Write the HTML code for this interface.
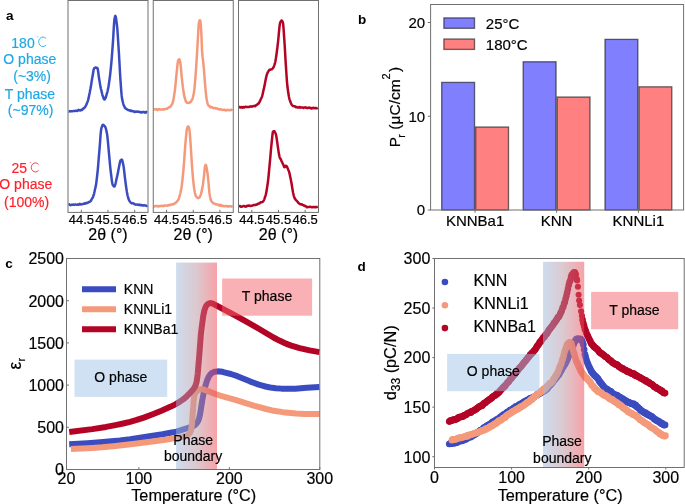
<!DOCTYPE html>
<html><head><meta charset="utf-8"><title>Figure</title>
<style>html,body{margin:0;padding:0;background:#fff;}svg{display:block;will-change:transform;}</style></head>
<body><svg width="685" height="504" viewBox="0 0 685 504" font-family="'Liberation Sans', sans-serif">
<rect width="685" height="504" fill="#fff"/>
<path d="M68.5 111.46 L68.9 111.52 L69.3 111.29 L69.7 111.22 L70.1 111.32 L70.5 111.38 L70.9 111.29 L71.3 111.31 L71.7 111.38 L72.1 111.29 L72.5 111.28 L72.9 111.15 L73.3 111.04 L73.7 110.91 L74.1 111.04 L74.5 111.08 L74.9 111.05 L75.3 110.83 L75.7 110.74 L76.1 110.76 L76.5 110.78 L76.9 110.92 L77.3 111.05 L77.7 110.67 L78.1 110.04 L78.5 109.85 L78.9 110.13 L79.3 110.3 L79.7 110.28 L80.1 110.51 L80.5 110.31 L80.9 109.98 L81.3 109.86 L81.7 110.02 L82.1 109.92 L82.5 109.4 L82.9 108.84 L83.3 108.49 L83.7 108.37 L84.1 108.13 L84.5 107.63 L84.9 107.19 L85.3 106.66 L85.7 105.98 L86.1 105.2 L86.5 104.41 L86.9 103.35 L87.3 102.33 L87.7 101.36 L88.1 100.14 L88.5 98.37 L88.9 96.54 L89.3 94.59 L89.7 92.74 L90.1 90.51 L90.5 88.55 L90.9 86.32 L91.3 83.85 L91.7 81.15 L92.1 78.72 L92.5 76.58 L92.9 74.32 L93.3 71.74 L93.7 69.59 L94.1 68.38 L94.5 68.11 L94.9 67.93 L95.3 67.61 L95.7 67.45 L96.1 67.62 L96.5 67.92 L96.9 67.88 L97.3 68 L97.7 68.67 L98.1 71.05 L98.5 74.18 L98.9 77.29 L99.3 79.77 L99.7 82.12 L100.1 84.64 L100.5 86.88 L100.9 88.71 L101.3 90.2 L101.7 91.86 L102.1 93.61 L102.5 95.07 L102.9 96.24 L103.3 97.43 L103.7 98.56 L104.1 99.31 L104.5 99.54 L104.9 99.23 L105.3 98.48 L105.7 97.68 L106.1 96.32 L106.5 94.89 L106.9 93.44 L107.3 92.11 L107.7 90.49 L108.1 88.5 L108.5 86.45 L108.9 83.88 L109.3 81.18 L109.7 78.21 L110.1 75.08 L110.5 71.47 L110.9 67.41 L111.3 63.29 L111.7 58.76 L112.1 53.7 L112.5 48.19 L112.9 42.81 L113.3 36.33 L113.7 29.16 L114.1 22.9 L114.5 18.92 L114.9 17.06 L115.3 15.91 L115.7 16.49 L116.1 18.72 L116.5 21.77 L116.9 24.82 L117.3 28.46 L117.7 34.11 L118.1 40.38 L118.5 46.49 L118.9 52.74 L119.3 59.75 L119.7 67.25 L120.1 74.32 L120.5 80.55 L120.9 86.25 L121.3 91.58 L121.7 95.91 L122.1 98.8 L122.5 100.64 L122.9 102.28 L123.3 103.83 L123.7 104.99 L124.1 105.92 L124.5 106.85 L124.9 107.61 L125.3 108.11 L125.7 108.38 L126.1 108.71 L126.5 108.98 L126.9 109.27 L127.3 109.65 L127.7 109.76 L128.1 109.97 L128.5 110.12 L128.9 110.24 L129.3 110.14 L129.7 110.29 L130.1 110.75 L130.5 110.89 L130.9 110.93 L131.3 110.59 L131.7 110.71 L132.1 110.96 L132.5 111.3 L132.9 111.24 L133.3 111.19 L133.7 111.4 L134.1 111.63 L134.5 111.9 L134.9 111.94 L135.3 111.75 L135.7 111.49 L136.1 111.51 L136.5 111.64 L136.9 111.7 L137.3 111.76 L137.7 111.59 L138.1 111.66 L138.5 111.7 L138.9 111.75 L139.3 111.73 L139.7 112.08 L140.1 112.36 L140.5 112.3 L140.9 112.04 L141.3 112.33 L141.7 112.61 L142.1 112.53 L142.5 112.02 L142.9 111.96 L143.3 111.98 L143.7 112.06 L144.1 112.09 L144.5 112.44 L144.9 112.63 L145.3 112.36 L145.7 112.08 L146.1 111.89 L146.5 112.33 L146.9 112.48 L147.3 112.66" fill="none" stroke="#3b4cc0" stroke-width="2.5" stroke-linejoin="round"/>
<path d="M68.5 204.77 L68.9 204.68 L69.3 204.35 L69.7 204.56 L70.1 204.93 L70.5 205.16 L70.9 204.96 L71.3 204.89 L71.7 204.83 L72.1 204.81 L72.5 204.79 L72.9 204.75 L73.3 204.52 L73.7 204.58 L74.1 204.65 L74.5 204.78 L74.9 204.65 L75.3 204.62 L75.7 204.45 L76.1 204.57 L76.5 204.63 L76.9 204.74 L77.3 204.67 L77.7 204.5 L78.1 204.48 L78.5 204.73 L78.9 204.68 L79.3 204.17 L79.7 203.68 L80.1 203.95 L80.5 204.24 L80.9 204.48 L81.3 204.45 L81.7 204.38 L82.1 204.2 L82.5 204.02 L82.9 204.02 L83.3 203.81 L83.7 203.62 L84.1 203.5 L84.5 203.81 L84.9 203.75 L85.3 203.38 L85.7 202.97 L86.1 203.1 L86.5 203.15 L86.9 203.21 L87.3 202.77 L87.7 202.65 L88.1 202.57 L88.5 202.44 L88.9 202 L89.3 201.84 L89.7 201.77 L90.1 201.48 L90.5 201.26 L90.9 200.88 L91.3 200.13 L91.7 199.15 L92.1 198.57 L92.5 197.99 L92.9 197.23 L93.3 196.14 L93.7 195.05 L94.1 193.59 L94.5 191.8 L94.9 189.71 L95.3 188.15 L95.7 186.39 L96.1 184.29 L96.5 181.28 L96.9 177.88 L97.3 174.25 L97.7 170.63 L98.1 166.23 L98.5 161.13 L98.9 156.27 L99.3 151.58 L99.7 146.93 L100.1 141.38 L100.5 135.94 L100.9 131.49 L101.3 128.65 L101.7 127.28 L102.1 126.06 L102.5 125.18 L102.9 124.77 L103.3 124.87 L103.7 125.09 L104.1 125.53 L104.5 125.92 L104.9 126.56 L105.3 127.02 L105.7 128.09 L106.1 129.51 L106.5 131.3 L106.9 133.21 L107.3 135.66 L107.7 139.27 L108.1 143.49 L108.5 148.04 L108.9 152.51 L109.3 156.93 L109.7 161.29 L110.1 165.71 L110.5 169.66 L110.9 173 L111.3 176.15 L111.7 179.35 L112.1 182.31 L112.5 184.12 L112.9 185.21 L113.3 185.61 L113.7 186.27 L114.1 186.57 L114.5 186.45 L114.9 185.64 L115.3 184.51 L115.7 182.95 L116.1 180.87 L116.5 179.08 L116.9 177.4 L117.3 175.71 L117.7 173.86 L118.1 171.77 L118.5 169.57 L118.9 167.56 L119.3 165.54 L119.7 163.45 L120.1 161.65 L120.5 160.53 L120.9 160.18 L121.3 159.83 L121.7 159.6 L122.1 159.9 L122.5 161.42 L122.9 163.07 L123.3 164.89 L123.7 167.11 L124.1 170.28 L124.5 173.89 L124.9 177.51 L125.3 180.71 L125.7 183.59 L126.1 186.64 L126.5 189.35 L126.9 192.05 L127.3 193.98 L127.7 195.99 L128.1 197.34 L128.5 198.8 L128.9 199.79 L129.3 200.64 L129.7 201.16 L130.1 201.73 L130.5 202.22 L130.9 202.68 L131.3 203.11 L131.7 203.3 L132.1 203.2 L132.5 203.12 L132.9 203.29 L133.3 203.36 L133.7 203.61 L134.1 203.85 L134.5 204.15 L134.9 204.28 L135.3 204.55 L135.7 204.68 L136.1 204.5 L136.5 204.48 L136.9 204.62 L137.3 204.69 L137.7 204.79 L138.1 204.94 L138.5 204.83 L138.9 204.65 L139.3 204.56 L139.7 204.94 L140.1 205.17 L140.5 205.22 L140.9 204.93 L141.3 204.88 L141.7 205.07 L142.1 205.4 L142.5 205.59 L142.9 205.58 L143.3 205.45 L143.7 205.16 L144.1 205.16 L144.5 205.31 L144.9 205.59 L145.3 205.44 L145.7 205.39 L146.1 205.73 L146.5 205.91 L146.9 205.63 L147.3 205.34" fill="none" stroke="#3b4cc0" stroke-width="2.5" stroke-linejoin="round"/>
<path d="M153.75 109.62 L154.15 109.48 L154.55 109.27 L154.95 109.49 L155.35 109.4 L155.75 109.22 L156.15 109.16 L156.55 109.14 L156.95 109.77 L157.35 109.99 L157.75 109.91 L158.15 109.42 L158.55 109.29 L158.95 109.17 L159.35 109.12 L159.75 109.27 L160.15 109.39 L160.55 109.51 L160.95 109.46 L161.35 109.42 L161.75 109.48 L162.15 109.61 L162.55 109.47 L162.95 109.18 L163.35 109.16 L163.75 109.46 L164.15 109.46 L164.55 109.22 L164.95 109.06 L165.35 108.97 L165.75 108.82 L166.15 108.74 L166.55 108.87 L166.95 108.78 L167.35 108.6 L167.75 108.04 L168.15 107.83 L168.55 107.6 L168.95 107.45 L169.35 107.09 L169.75 107.13 L170.15 107.03 L170.55 106.47 L170.95 105.85 L171.35 105.3 L171.75 104.82 L172.15 104.06 L172.55 103.03 L172.95 101.81 L173.35 100.15 L173.75 97.84 L174.15 95.22 L174.55 92.58 L174.95 89.72 L175.35 86.17 L175.75 82.09 L176.15 77.58 L176.55 73.59 L176.95 69.97 L177.35 66.03 L177.75 62.45 L178.15 60.57 L178.55 60.04 L178.95 59.35 L179.35 59.22 L179.75 60.14 L180.15 62.05 L180.55 64.39 L180.95 68.22 L181.35 72.81 L181.75 77.06 L182.15 80.85 L182.55 84.28 L182.95 87.63 L183.35 90.35 L183.75 93.08 L184.15 95.18 L184.55 97.13 L184.95 98.4 L185.35 99.91 L185.75 101.09 L186.15 101.91 L186.55 102.34 L186.95 102.73 L187.35 102.86 L187.75 102.81 L188.15 102.77 L188.55 103.02 L188.95 102.95 L189.35 102.7 L189.75 102.32 L190.15 102.28 L190.55 102.15 L190.95 101.71 L191.35 100.93 L191.75 100.12 L192.15 99.53 L192.55 98.69 L192.95 97.28 L193.35 95.44 L193.75 93.55 L194.15 91.09 L194.55 87.65 L194.95 83.17 L195.35 78.24 L195.75 73.05 L196.15 67.61 L196.55 61.1 L196.95 54.4 L197.35 47.63 L197.75 41.28 L198.15 33.71 L198.55 26.65 L198.95 22.33 L199.35 21.25 L199.75 20.2 L200.15 20.33 L200.55 22.68 L200.95 26.37 L201.35 33.09 L201.75 43.92 L202.15 52.08 L202.55 56.42 L202.95 59.91 L203.35 63.15 L203.75 67.33 L204.15 72.22 L204.55 77.76 L204.95 82.75 L205.35 87.41 L205.75 91.68 L206.15 95.6 L206.55 98.51 L206.95 100.77 L207.35 102.62 L207.75 104.04 L208.15 104.83 L208.55 105.53 L208.95 105.89 L209.35 106.08 L209.75 106.33 L210.15 107.02 L210.55 107.4 L210.95 107.34 L211.35 107.03 L211.75 107.02 L212.15 107.28 L212.55 107.73 L212.95 108.02 L213.35 108.06 L213.75 108.08 L214.15 108.18 L214.55 108.04 L214.95 107.99 L215.35 108.13 L215.75 108.34 L216.15 108.39 L216.55 108.37 L216.95 108.5 L217.35 108.76 L217.75 108.94 L218.15 108.98 L218.55 109.06 L218.95 109.3 L219.35 109.59 L219.75 109.33 L220.15 109.25 L220.55 109.16 L220.95 109.43 L221.35 109.5 L221.75 109.77 L222.15 109.93 L222.55 109.88 L222.95 109.95 L223.35 109.88 L223.75 109.81 L224.15 109.75 L224.55 109.79 L224.95 110.06 L225.35 110.24 L225.75 110.57 L226.15 110.37 L226.55 110.14 L226.95 109.9 L227.35 110.05 L227.75 110.08 L228.15 110.07 L228.55 110.05 L228.95 110.33 L229.35 110.29 L229.75 110.35 L230.15 110.15 L230.55 110.06 L230.95 109.84 L231.35 109.79 L231.75 109.92 L232.15 110.2 L232.55 110.39" fill="none" stroke="#f49a7b" stroke-width="2.5" stroke-linejoin="round"/>
<path d="M153.75 206.07 L154.15 206.3 L154.55 206.54 L154.95 206.31 L155.35 206 L155.75 205.9 L156.15 206.09 L156.55 205.92 L156.95 205.94 L157.35 206.02 L157.75 206.41 L158.15 206.47 L158.55 206.44 L158.95 206.05 L159.35 206.2 L159.75 206.03 L160.15 206.17 L160.55 205.96 L160.95 206.01 L161.35 205.75 L161.75 205.7 L162.15 205.85 L162.55 205.94 L162.95 206.17 L163.35 205.93 L163.75 205.77 L164.15 205.51 L164.55 205.76 L164.95 205.52 L165.35 205.43 L165.75 205.38 L166.15 205.43 L166.55 205.47 L166.95 205.51 L167.35 205.73 L167.75 205.7 L168.15 205.49 L168.55 205.12 L168.95 204.91 L169.35 205.08 L169.75 205.25 L170.15 205.12 L170.55 204.8 L170.95 204.51 L171.35 204.43 L171.75 204.38 L172.15 204.37 L172.55 204.59 L172.95 204.51 L173.35 204.24 L173.75 203.89 L174.15 203.69 L174.55 203.43 L174.95 203.18 L175.35 203.14 L175.75 202.73 L176.15 202.43 L176.55 201.96 L176.95 201.58 L177.35 200.98 L177.75 200.53 L178.15 199.98 L178.55 199.19 L178.95 198.18 L179.35 196.96 L179.75 195.5 L180.15 194.07 L180.55 192.29 L180.95 190.27 L181.35 188.28 L181.75 185.9 L182.15 182.58 L182.55 178.79 L182.95 174.84 L183.35 170.79 L183.75 166.16 L184.15 161.1 L184.55 155.32 L184.95 149.63 L185.35 144.39 L185.75 139.91 L186.15 135.3 L186.55 131.43 L186.95 128.74 L187.35 127.59 L187.75 126.59 L188.15 126.41 L188.55 126.67 L188.95 127.74 L189.35 129.34 L189.75 132.31 L190.15 137.44 L190.55 143.33 L190.95 149.24 L191.35 155.55 L191.75 162.07 L192.15 167.97 L192.55 172.98 L192.95 177.59 L193.35 181.7 L193.75 185.34 L194.15 188.4 L194.55 190.86 L194.95 192.97 L195.35 194.63 L195.75 195.73 L196.15 196.38 L196.55 196.66 L196.95 197.27 L197.35 197.68 L197.75 198.08 L198.15 198.11 L198.55 198.08 L198.95 197.75 L199.35 197.4 L199.75 196.91 L200.15 196.1 L200.55 195.21 L200.95 194.03 L201.35 192.73 L201.75 190.88 L202.15 188.86 L202.55 186.68 L202.95 184.44 L203.35 181.39 L203.75 177.83 L204.15 174.28 L204.55 170.17 L204.95 166.62 L205.35 165.27 L205.75 164.77 L206.15 165.49 L206.55 167.38 L206.95 169.65 L207.35 172.19 L207.75 175.47 L208.15 178.95 L208.55 183 L208.95 187.99 L209.35 192.41 L209.75 195.17 L210.15 197.29 L210.55 199.17 L210.95 200.35 L211.35 201.18 L211.75 201.61 L212.15 201.96 L212.55 202.34 L212.95 202.85 L213.35 203.29 L213.75 203.44 L214.15 203.61 L214.55 203.65 L214.95 203.82 L215.35 203.94 L215.75 204.2 L216.15 204.33 L216.55 204.44 L216.95 204.51 L217.35 204.53 L217.75 204.57 L218.15 204.89 L218.55 205.1 L218.95 205.42 L219.35 205.49 L219.75 205.14 L220.15 204.79 L220.55 205.15 L220.95 205.68 L221.35 205.67 L221.75 205.38 L222.15 205.58 L222.55 205.91 L222.95 206.14 L223.35 206.06 L223.75 206.16 L224.15 206.27 L224.55 206.08 L224.95 205.96 L225.35 206.01 L225.75 206.17 L226.15 206.2 L226.55 206.26 L226.95 205.91 L227.35 205.93 L227.75 206.28 L228.15 206.64 L228.55 206.39 L228.95 206.3 L229.35 206.21 L229.75 206.26 L230.15 206.29 L230.55 206.4 L230.95 206.26 L231.35 206.19 L231.75 206.4 L232.15 206.76 L232.55 206.86" fill="none" stroke="#f49a7b" stroke-width="2.5" stroke-linejoin="round"/>
<path d="M239 107 L239.4 106.94 L239.8 107.14 L240.2 107.48 L240.6 107.55 L241 107.38 L241.4 107.1 L241.8 107.17 L242.2 107.5 L242.6 107.66 L243 107.35 L243.4 106.95 L243.8 107.12 L244.2 107.39 L244.6 107.23 L245 106.92 L245.4 106.81 L245.8 106.89 L246.2 106.84 L246.6 106.89 L247 107 L247.4 107.09 L247.8 107.05 L248.2 106.99 L248.6 107.11 L249 106.97 L249.4 106.75 L249.8 106.54 L250.2 106.66 L250.6 106.53 L251 106.57 L251.4 106.6 L251.8 106.67 L252.2 106.48 L252.6 106.34 L253 106.2 L253.4 106.06 L253.8 106.05 L254.2 106.03 L254.6 106.18 L255 106.2 L255.4 105.9 L255.8 105.47 L256.2 105.1 L256.6 105.05 L257 104.78 L257.4 104.36 L257.8 103.9 L258.2 103.57 L258.6 103.53 L259 102.92 L259.4 102.3 L259.8 101.36 L260.2 100.55 L260.6 99.46 L261 98.79 L261.4 97.97 L261.8 97.23 L262.2 95.9 L262.6 94.39 L263 92.6 L263.4 90.76 L263.8 88.84 L264.2 87.18 L264.6 85.36 L265 83.21 L265.4 80.89 L265.8 78.96 L266.2 77.14 L266.6 75.61 L267 74.22 L267.4 73.17 L267.8 72.27 L268.2 71.66 L268.6 70.98 L269 70.37 L269.4 69.72 L269.8 69.76 L270.2 69.81 L270.6 69.69 L271 69.32 L271.4 69.32 L271.8 69.24 L272.2 68.92 L272.6 68.52 L273 68.01 L273.4 67.36 L273.8 66.52 L274.2 65.71 L274.6 64.45 L275 63.02 L275.4 61.2 L275.8 58.91 L276.2 56.22 L276.6 53.47 L277 50.48 L277.4 47.31 L277.8 43.81 L278.2 40.32 L278.6 36.15 L279 31.7 L279.4 27.58 L279.8 24.29 L280.2 22.47 L280.6 21.84 L281 21.33 L281.4 20.63 L281.8 20.43 L282.2 20.96 L282.6 21.83 L283 22.91 L283.4 26.49 L283.8 32.08 L284.2 38.14 L284.6 43.99 L285 50.68 L285.4 57.81 L285.8 64.34 L286.2 70.4 L286.6 76.56 L287 81.99 L287.4 86.28 L287.8 89.38 L288.2 92.33 L288.6 94.73 L289 96.94 L289.4 98.87 L289.8 100.18 L290.2 101.24 L290.6 102.29 L291 103.29 L291.4 104.14 L291.8 104.75 L292.2 105.25 L292.6 105.71 L293 106.01 L293.4 106.12 L293.8 106.15 L294.2 106.16 L294.6 106.2 L295 106.39 L295.4 106.78 L295.8 107.14 L296.2 107.2 L296.6 106.98 L297 107.07 L297.4 107.44 L297.8 107.53 L298.2 107.44 L298.6 107.47 L299 107.37 L299.4 107.1 L299.8 107.12 L300.2 107.57 L300.6 107.64 L301 107.59 L301.4 107.4 L301.8 107.47 L302.2 107.4 L302.6 107.46 L303 107.71 L303.4 107.96 L303.8 107.82 L304.2 107.49 L304.6 107.43 L305 107.53 L305.4 107.58 L305.8 107.37 L306.2 107.67 L306.6 108.04 L307 108.09 L307.4 107.9 L307.8 108.04 L308.2 107.89 L308.6 107.57 L309 107.44 L309.4 107.84 L309.8 107.94 L310.2 107.94 L310.6 107.86 L311 108.12 L311.4 108.51 L311.8 108.47 L312.2 108.02 L312.6 108.07 L313 108.18 L313.4 108.07 L313.8 107.76 L314.2 107.97 L314.6 108.2 L315 108.27 L315.4 108.08 L315.8 107.96 L316.2 108 L316.6 108.34 L317 108.34 L317.4 108.06 L317.8 107.77" fill="none" stroke="#b40426" stroke-width="2.5" stroke-linejoin="round"/>
<path d="M239 206.7 L239.4 206.41 L239.8 206.07 L240.2 206.08 L240.6 206.61 L241 206.72 L241.4 206.74 L241.8 206.63 L242.2 206.56 L242.6 206.39 L243 206.19 L243.4 205.94 L243.8 205.96 L244.2 206.06 L244.6 206.26 L245 206.44 L245.4 206.72 L245.8 206.55 L246.2 206.46 L246.6 206.16 L247 205.94 L247.4 205.75 L247.8 205.91 L248.2 205.79 L248.6 205.45 L249 205.43 L249.4 205.58 L249.8 205.87 L250.2 205.93 L250.6 206 L251 205.82 L251.4 205.83 L251.8 205.74 L252.2 205.73 L252.6 205.53 L253 205.38 L253.4 205.08 L253.8 205.12 L254.2 205.11 L254.6 204.97 L255 205.01 L255.4 204.98 L255.8 204.85 L256.2 204.52 L256.6 204.66 L257 204.56 L257.4 204.36 L257.8 204.03 L258.2 203.67 L258.6 203.45 L259 203.5 L259.4 203.51 L259.8 203.21 L260.2 202.76 L260.6 202.39 L261 202.17 L261.4 202.3 L261.8 202.26 L262.2 202.05 L262.6 201.83 L263 201.51 L263.4 200.94 L263.8 200.32 L264.2 199.37 L264.6 198.34 L265 196.96 L265.4 195.93 L265.8 194.56 L266.2 192.92 L266.6 190.56 L267 188.08 L267.4 185.5 L267.8 182.84 L268.2 179.51 L268.6 175.75 L269 171.46 L269.4 167.14 L269.8 162.81 L270.2 158.65 L270.6 153.93 L271 149.26 L271.4 145.09 L271.8 141.45 L272.2 137.2 L272.6 133.52 L273 131.61 L273.4 131.51 L273.8 131.25 L274.2 131.17 L274.6 131.42 L275 132.29 L275.4 133 L275.8 134.02 L276.2 135.53 L276.6 137.89 L277 140.5 L277.4 143.57 L277.8 146.33 L278.2 149.15 L278.6 151.89 L279 154.39 L279.4 156.21 L279.8 157.68 L280.2 158.49 L280.6 159.04 L281 159.67 L281.4 160.78 L281.8 161.58 L282.2 162.38 L282.6 163.32 L283 164.03 L283.4 164.87 L283.8 165.96 L284.2 167 L284.6 167.16 L285 166.92 L285.4 166.28 L285.8 165.89 L286.2 165.72 L286.6 166.16 L287 166.7 L287.4 167.64 L287.8 168.61 L288.2 169.69 L288.6 170.54 L289 171.48 L289.4 172.91 L289.8 174.76 L290.2 176.68 L290.6 178.55 L291 180.63 L291.4 182.8 L291.8 185.05 L292.2 187.58 L292.6 189.98 L293 192.19 L293.4 194.03 L293.8 195.8 L294.2 196.98 L294.6 198.07 L295 198.79 L295.4 199.42 L295.8 199.89 L296.2 200.32 L296.6 200.67 L297 201.09 L297.4 201.6 L297.8 201.95 L298.2 202.61 L298.6 202.99 L299 203.26 L299.4 203.6 L299.8 204.01 L300.2 204.24 L300.6 204.28 L301 204.53 L301.4 204.41 L301.8 204.27 L302.2 204.47 L302.6 204.95 L303 205.07 L303.4 205.16 L303.8 205.28 L304.2 205.79 L304.6 206.01 L305 206.1 L305.4 206.02 L305.8 206.14 L306.2 206.54 L306.6 207.13 L307 207.33 L307.4 207.13 L307.8 206.88 L308.2 206.91 L308.6 206.98 L309 206.98 L309.4 206.98 L309.8 206.78 L310.2 206.72 L310.6 206.88 L311 207.02 L311.4 207.16 L311.8 207.22 L312.2 207.17 L312.6 207.16 L313 206.97 L313.4 207.02 L313.8 207.13 L314.2 207.27 L314.6 207.02 L315 206.91 L315.4 207.17 L315.8 207.26 L316.2 207.13 L316.6 207.06 L317 207.07 L317.4 206.86 L317.8 206.66" fill="none" stroke="#b40426" stroke-width="2.5" stroke-linejoin="round"/>
<rect x="68" y="0.5" width="80" height="211.9" fill="none" stroke="#707070" stroke-width="1"/>
<line x1="81.33" y1="212.4" x2="81.33" y2="209.8" stroke="#707070" stroke-width="1"/>
<text x="81.33" y="223.8" font-size="13" text-anchor="middle" fill="#000" font-weight="normal" stroke="#000" stroke-width="0.18" >44.5</text>
<line x1="108" y1="212.4" x2="108" y2="209.8" stroke="#707070" stroke-width="1"/>
<text x="108" y="223.8" font-size="13" text-anchor="middle" fill="#000" font-weight="normal" stroke="#000" stroke-width="0.18" >45.5</text>
<line x1="134.67" y1="212.4" x2="134.67" y2="209.8" stroke="#707070" stroke-width="1"/>
<text x="134.67" y="223.8" font-size="13" text-anchor="middle" fill="#000" font-weight="normal" stroke="#000" stroke-width="0.18" >46.5</text>
<text x="108" y="240.4" font-size="16" text-anchor="middle" fill="#000" font-weight="normal" stroke="#000" stroke-width="0.18" >2&#952; (&#176;)</text>
<rect x="153.25" y="0.5" width="80" height="211.9" fill="none" stroke="#707070" stroke-width="1"/>
<line x1="166.58" y1="212.4" x2="166.58" y2="209.8" stroke="#707070" stroke-width="1"/>
<text x="166.58" y="223.8" font-size="13" text-anchor="middle" fill="#000" font-weight="normal" stroke="#000" stroke-width="0.18" >44.5</text>
<line x1="193.25" y1="212.4" x2="193.25" y2="209.8" stroke="#707070" stroke-width="1"/>
<text x="193.25" y="223.8" font-size="13" text-anchor="middle" fill="#000" font-weight="normal" stroke="#000" stroke-width="0.18" >45.5</text>
<line x1="219.92" y1="212.4" x2="219.92" y2="209.8" stroke="#707070" stroke-width="1"/>
<text x="219.92" y="223.8" font-size="13" text-anchor="middle" fill="#000" font-weight="normal" stroke="#000" stroke-width="0.18" >46.5</text>
<text x="193.25" y="240.4" font-size="16" text-anchor="middle" fill="#000" font-weight="normal" stroke="#000" stroke-width="0.18" >2&#952; (&#176;)</text>
<rect x="238.5" y="0.5" width="80" height="211.9" fill="none" stroke="#707070" stroke-width="1"/>
<line x1="251.83" y1="212.4" x2="251.83" y2="209.8" stroke="#707070" stroke-width="1"/>
<text x="251.83" y="223.8" font-size="13" text-anchor="middle" fill="#000" font-weight="normal" stroke="#000" stroke-width="0.18" >44.5</text>
<line x1="278.5" y1="212.4" x2="278.5" y2="209.8" stroke="#707070" stroke-width="1"/>
<text x="278.5" y="223.8" font-size="13" text-anchor="middle" fill="#000" font-weight="normal" stroke="#000" stroke-width="0.18" >45.5</text>
<line x1="305.17" y1="212.4" x2="305.17" y2="209.8" stroke="#707070" stroke-width="1"/>
<text x="305.17" y="223.8" font-size="13" text-anchor="middle" fill="#000" font-weight="normal" stroke="#000" stroke-width="0.18" >46.5</text>
<text x="278.5" y="240.4" font-size="16" text-anchor="middle" fill="#000" font-weight="normal" stroke="#000" stroke-width="0.18" >2&#952; (&#176;)</text>
<text x="23" y="47.5" font-size="14" text-anchor="middle" fill="#1ea8e6" font-weight="normal" stroke="#1ea8e6" stroke-width="0.18" >180</text>
<path d="M 46.15 38.62 A 4.3 4.75 0 1 0 46.15 44.98" fill="none" stroke="#1ea8e6" stroke-width="1.0" stroke-opacity="0.85"/>
<circle cx="37.7" cy="36.7" r="0.8" fill="#1ea8e6" fill-opacity="0.45"/>
<text x="29.8" y="64.4" font-size="14" text-anchor="middle" fill="#1ea8e6" font-weight="normal" stroke="#1ea8e6" stroke-width="0.18" >O phase</text>
<text x="32.1" y="81.4" font-size="14" text-anchor="middle" fill="#1ea8e6" font-weight="normal" stroke="#1ea8e6" stroke-width="0.18" >(~3%)</text>
<text x="29.9" y="98.9" font-size="14" text-anchor="middle" fill="#1ea8e6" font-weight="normal" stroke="#1ea8e6" stroke-width="0.18" >T phase</text>
<text x="30.6" y="115.4" font-size="14" text-anchor="middle" fill="#1ea8e6" font-weight="normal" stroke="#1ea8e6" stroke-width="0.18" >(~97%)</text>
<text x="19.3" y="172.7" font-size="14" text-anchor="middle" fill="#ff1f2a" font-weight="normal" stroke="#ff1f2a" stroke-width="0.18" >25</text>
<path d="M 38.57 164.39 A 4.2 4.5 0 1 0 38.57 170.41" fill="none" stroke="#ff1f2a" stroke-width="1.0" stroke-opacity="0.85"/>
<circle cx="30.3" cy="162.55" r="0.8" fill="#ff1f2a" fill-opacity="0.45"/>
<text x="25.8" y="189.2" font-size="14" text-anchor="middle" fill="#ff1f2a" font-weight="normal" stroke="#ff1f2a" stroke-width="0.18" >O phase</text>
<text x="26.6" y="206.8" font-size="14" text-anchor="middle" fill="#ff1f2a" font-weight="normal" stroke="#ff1f2a" stroke-width="0.18" >(100%)</text>
<text x="6" y="19.9" font-size="13.5" text-anchor="start" fill="#000" font-weight="bold" >a</text>
<rect x="441.7" y="82.41" width="32.85" height="127.59" fill="#8080ff" stroke="#000" stroke-opacity="0.55" stroke-width="1.35"/>
<rect x="475.65" y="127.03" width="32.85" height="82.97" fill="#ff8080" stroke="#000" stroke-opacity="0.55" stroke-width="1.35"/>
<rect x="523.2" y="61.78" width="32.85" height="148.22" fill="#8080ff" stroke="#000" stroke-opacity="0.55" stroke-width="1.35"/>
<rect x="557.15" y="97.03" width="32.85" height="112.97" fill="#ff8080" stroke="#000" stroke-opacity="0.55" stroke-width="1.35"/>
<rect x="605" y="39.38" width="32.85" height="170.62" fill="#8080ff" stroke="#000" stroke-opacity="0.55" stroke-width="1.35"/>
<rect x="638.95" y="86.81" width="32.85" height="123.19" fill="#ff8080" stroke="#000" stroke-opacity="0.55" stroke-width="1.35"/>
<rect x="430.6" y="4.5" width="253" height="205.5" fill="none" stroke="#707070" stroke-width="1"/>
<line x1="427.8" y1="210" x2="430.6" y2="210" stroke="#707070" stroke-width="1"/>
<text x="425.2" y="215.4" font-size="15" text-anchor="end" fill="#000" font-weight="normal" stroke="#000" stroke-width="0.18" >0</text>
<line x1="427.8" y1="116.25" x2="430.6" y2="116.25" stroke="#707070" stroke-width="1"/>
<text x="425.2" y="121.65" font-size="15" text-anchor="end" fill="#000" font-weight="normal" stroke="#000" stroke-width="0.18" >10</text>
<line x1="427.8" y1="22.5" x2="430.6" y2="22.5" stroke="#707070" stroke-width="1"/>
<text x="425.2" y="27.9" font-size="15" text-anchor="end" fill="#000" font-weight="normal" stroke="#000" stroke-width="0.18" >20</text>
<line x1="475.1" y1="210" x2="475.1" y2="212.8" stroke="#707070" stroke-width="1"/>
<text x="475.1" y="226.2" font-size="15" text-anchor="middle" fill="#000" font-weight="normal" stroke="#000" stroke-width="0.18" >KNNBa1</text>
<line x1="556.6" y1="210" x2="556.6" y2="212.8" stroke="#707070" stroke-width="1"/>
<text x="556.6" y="226.2" font-size="15" text-anchor="middle" fill="#000" font-weight="normal" stroke="#000" stroke-width="0.18" >KNN</text>
<line x1="638.4" y1="210" x2="638.4" y2="212.8" stroke="#707070" stroke-width="1"/>
<text x="638.4" y="226.2" font-size="15" text-anchor="middle" fill="#000" font-weight="normal" stroke="#000" stroke-width="0.18" >KNNLi1</text>
<rect x="443.9" y="17.9" width="30.6" height="10.4" fill="#8080ff" stroke="#000" stroke-opacity="0.55" stroke-width="1.35"/>
<rect x="443.9" y="39.0" width="30.6" height="10.4" fill="#ff8080" stroke="#000" stroke-opacity="0.55" stroke-width="1.35"/>
<text x="485.8" y="28.7" font-size="15" text-anchor="start" fill="#000" font-weight="normal" stroke="#000" stroke-width="0.18" >25&#176;C</text>
<text x="485.8" y="49.7" font-size="15" text-anchor="start" fill="#000" font-weight="normal" stroke="#000" stroke-width="0.18" >180&#176;C</text>
<text transform="translate(399.7 147.3) rotate(-90)" font-size="15.5" fill="#000" stroke="#000" stroke-width="0.18">P<tspan font-size="10.5" dy="4.9" dx="-0.8">r</tspan><tspan dy="-4.9" dx="0.3"> (&#956;C/cm</tspan><tspan font-size="11" dy="-9.3">2</tspan><tspan dy="9.3" dx="1.2">)</tspan></text>
<text x="358" y="23.9" font-size="13.5" text-anchor="start" fill="#000" font-weight="bold" >b</text>
<defs><clipPath id="cc"><rect x="66.5" y="258.5" width="253.3" height="211"/></clipPath>
<clipPath id="cd"><rect x="434.5" y="258.5" width="249.7" height="209"/></clipPath>
<linearGradient id="gb" x1="0" x2="1" y1="0" y2="0"><stop offset="0" stop-color="#cddcee"/><stop offset="0.5" stop-color="#dcc8d4"/><stop offset="1" stop-color="#f7a2a8"/></linearGradient>
<linearGradient id="gbl" x1="0" x2="1" y1="0" y2="0"><stop offset="0" stop-color="#9cb9dd" stop-opacity="0.5"/><stop offset="0.5" stop-color="#b9929f" stop-opacity="0.5"/><stop offset="1" stop-color="#ef4550" stop-opacity="0.5"/></linearGradient>
</defs>
<g clip-path="url(#cc)">
<path d="M69.2 444.2 L87.47 443.17 L100.04 442.28 L119.76 440.47 L130.18 439.19 L162.5 434.2 L173.14 432.31 L176.34 431.58 L179.51 430.68 L191.51 426.77 L193.16 426.1 L195.13 424.85 L196.78 423.16 L198.05 421.15 L199.04 418.69 L200.11 414.02 L202.31 400.05 L203.62 393.28 L205.67 384.8 L206.55 381.93 L207.5 379.35 L208.95 376.28 L210.48 374.17 L211.54 373.23 L212.51 372.62 L213.57 372.13 L214.99 371.7 L217.65 371.35 L220.62 371.5 L223.26 372.04 L230.82 374.02 L237.38 376.16 L249.85 381.33 L258.01 384.37 L261.45 385.42 L265.51 386.48 L269.04 387.27 L272.29 387.85 L275.85 388.25 L281.53 388.63 L286.64 388.84 L290.84 388.86 L295.33 388.64 L306.7 387.69 L319.57 386.91" fill="none" stroke="#3b4cc0" stroke-width="6" stroke-linejoin="round" stroke-linecap="butt" />
<path d="M70.9 449.1 L92.47 447.92 L102.04 447.23 L113.39 446.14 L134.85 443.67 L156.28 441 L165.49 439.71 L182.08 436.9 L184.71 436.28 L186.68 435.57 L188.41 434.54 L189.75 433.08 L190.69 431.26 L191.4 428.66 L192.03 423.3 L193.65 400.79 L194.09 397.22 L194.6 394.89 L195.5 392.71 L196.73 391.12 L198.37 389.97 L199.45 389.55 L200.58 389.3 L202.31 389.27 L204.03 389.62 L215.52 394.02 L220.07 395.53 L235.38 399.83 L245.64 403.19 L254.55 405.86 L266.14 408.99 L272.27 410.45 L276.99 411.31 L282.93 412.14 L296.07 413.41 L304.76 413.88 L319.76 414.1" fill="none" stroke="#f49a7b" stroke-width="6" stroke-linejoin="round" stroke-linecap="butt" />
<path d="M69.2 432.1 L92.41 429.12 L106.03 426.92 L115.47 425.14 L123.1 423.53 L130.1 421.83 L136.74 419.97 L143.86 417.63 L153.42 414.04 L161.46 410.73 L170.8 406.6 L175.36 404.32 L179.5 401.89 L183.22 399.34 L186.2 396.86 L191.04 391.92 L193.54 388.94 L194.51 387.43 L195.32 385.84 L195.97 384.17 L196.46 382.46 L197.15 378.62 L197.73 373.54 L199.32 354.71 L200.81 334.97 L201.68 327.52 L203.3 315.6 L204.33 310.58 L205.52 307.14 L206.22 305.85 L207.11 304.72 L208.18 303.82 L209.16 303.33 L210.2 303.12 L211.26 303.17 L212.61 303.57 L214.25 304.35 L234.53 315.05 L243.23 319.79 L257.54 327.99 L273.54 337.49 L279.4 340.55 L284.56 343 L287.88 344.38 L291.25 345.6 L299.59 348.07 L309.53 350.37 L319.58 352.17" fill="none" stroke="#b40426" stroke-width="6" stroke-linejoin="round" stroke-linecap="butt" />
</g>
<rect x="176.1" y="262.6" width="40.9" height="206.9" fill="url(#gbl)" />
<rect x="74.5" y="359.6" width="92.7" height="37.3" fill="#a0c4e6" fill-opacity="0.5"/>
<rect x="222.1" y="278.5" width="90" height="37.2" fill="#f5636b" fill-opacity="0.5"/>
<rect x="66.5" y="258.5" width="253.3" height="211" fill="none" stroke="#707070" stroke-width="1"/>
<line x1="66.5" y1="469.5" x2="68.9" y2="469.5" stroke="#707070" stroke-width="1"/>
<text x="64" y="475.3" font-size="16" text-anchor="end" fill="#000" font-weight="normal" stroke="#000" stroke-width="0.18" >0</text>
<line x1="66.5" y1="427.3" x2="68.9" y2="427.3" stroke="#707070" stroke-width="1"/>
<text x="64" y="433.1" font-size="16" text-anchor="end" fill="#000" font-weight="normal" stroke="#000" stroke-width="0.18" >500</text>
<line x1="66.5" y1="385.1" x2="68.9" y2="385.1" stroke="#707070" stroke-width="1"/>
<text x="64" y="390.9" font-size="16" text-anchor="end" fill="#000" font-weight="normal" stroke="#000" stroke-width="0.18" >1000</text>
<line x1="66.5" y1="342.9" x2="68.9" y2="342.9" stroke="#707070" stroke-width="1"/>
<text x="64" y="348.7" font-size="16" text-anchor="end" fill="#000" font-weight="normal" stroke="#000" stroke-width="0.18" >1500</text>
<line x1="66.5" y1="300.7" x2="68.9" y2="300.7" stroke="#707070" stroke-width="1"/>
<text x="64" y="306.5" font-size="16" text-anchor="end" fill="#000" font-weight="normal" stroke="#000" stroke-width="0.18" >2000</text>
<line x1="66.5" y1="258.5" x2="68.9" y2="258.5" stroke="#707070" stroke-width="1"/>
<text x="64" y="264.3" font-size="16" text-anchor="end" fill="#000" font-weight="normal" stroke="#000" stroke-width="0.18" >2500</text>
<line x1="66.5" y1="469.5" x2="66.5" y2="467.1" stroke="#707070" stroke-width="1"/>
<text x="66.5" y="483.5" font-size="16" text-anchor="middle" fill="#000" font-weight="normal" stroke="#000" stroke-width="0.18" >20</text>
<line x1="138.87" y1="469.5" x2="138.87" y2="467.1" stroke="#707070" stroke-width="1"/>
<text x="138.87" y="483.5" font-size="16" text-anchor="middle" fill="#000" font-weight="normal" stroke="#000" stroke-width="0.18" >100</text>
<line x1="229.34" y1="469.5" x2="229.34" y2="467.1" stroke="#707070" stroke-width="1"/>
<text x="229.34" y="483.5" font-size="16" text-anchor="middle" fill="#000" font-weight="normal" stroke="#000" stroke-width="0.18" >200</text>
<line x1="319.8" y1="469.5" x2="319.8" y2="467.1" stroke="#707070" stroke-width="1"/>
<text x="319.8" y="483.5" font-size="16" text-anchor="middle" fill="#000" font-weight="normal" stroke="#000" stroke-width="0.18" >300</text>
<text x="193.75" y="500.7" font-size="16.3" text-anchor="middle" fill="#000" font-weight="normal" stroke="#000" stroke-width="0.18" >Temperature (&#176;C)</text>
<text transform="translate(20.6 369.4) rotate(-90)" font-size="17.5" fill="#000" stroke="#000" stroke-width="0.18">&#949;<tspan font-size="10.5" dy="4.2">r</tspan></text>
<line x1="82" y1="289.3" x2="116" y2="289.3" stroke="#3b4cc0" stroke-width="6"/>
<line x1="82" y1="309.3" x2="116" y2="309.3" stroke="#f49a7b" stroke-width="6"/>
<line x1="82" y1="329.3" x2="116" y2="329.3" stroke="#b40426" stroke-width="6"/>
<text x="123.8" y="293.7" font-size="14" text-anchor="start" fill="#000" font-weight="normal" stroke="#000" stroke-width="0.18" >KNN</text>
<text x="123.8" y="313.7" font-size="14" text-anchor="start" fill="#000" font-weight="normal" stroke="#000" stroke-width="0.18" >KNNLi1</text>
<text x="123.8" y="333.7" font-size="14" text-anchor="start" fill="#000" font-weight="normal" stroke="#000" stroke-width="0.18" >KNNBa1</text>
<text x="120.8" y="382.4" font-size="14" text-anchor="middle" fill="#000" font-weight="normal" stroke="#000" stroke-width="0.18" >O phase</text>
<text x="267" y="301.2" font-size="14" text-anchor="middle" fill="#000" font-weight="normal" stroke="#000" stroke-width="0.18" >T phase</text>
<text x="193.2" y="445" font-size="14" text-anchor="middle" fill="#000" font-weight="normal" stroke="#000" stroke-width="0.18" >Phase</text>
<text x="193.1" y="461.3" font-size="14" text-anchor="middle" fill="#000" font-weight="normal" stroke="#000" stroke-width="0.18" >boundary</text>
<text x="5.2" y="267.9" font-size="13.5" text-anchor="start" fill="#000" font-weight="bold" >c</text>
<g clip-path="url(#cd)">
<g fill="#3b4cc0"><circle cx="449.2" cy="443.99" r="3.3"/><circle cx="449.97" cy="443.86" r="3.3"/><circle cx="450.74" cy="443.14" r="3.3"/><circle cx="451.51" cy="443.64" r="3.3"/><circle cx="452.28" cy="443.18" r="3.3"/><circle cx="453.06" cy="443.05" r="3.3"/><circle cx="453.83" cy="442.88" r="3.3"/><circle cx="454.6" cy="443.35" r="3.3"/><circle cx="455.37" cy="442.94" r="3.3"/><circle cx="456.14" cy="442.73" r="3.3"/><circle cx="456.91" cy="442.56" r="3.3"/><circle cx="457.68" cy="442.13" r="3.3"/><circle cx="458.45" cy="441.47" r="3.3"/><circle cx="459.22" cy="440.99" r="3.3"/><circle cx="459.99" cy="441" r="3.3"/><circle cx="460.77" cy="440.78" r="3.3"/><circle cx="461.54" cy="441.1" r="3.3"/><circle cx="462.31" cy="440.69" r="3.3"/><circle cx="463.08" cy="440.57" r="3.3"/><circle cx="463.85" cy="439.71" r="3.3"/><circle cx="464.62" cy="439.26" r="3.3"/><circle cx="465.39" cy="439.54" r="3.3"/><circle cx="466.16" cy="439.18" r="3.3"/><circle cx="466.93" cy="438.5" r="3.3"/><circle cx="467.7" cy="437.8" r="3.3"/><circle cx="468.48" cy="437.42" r="3.3"/><circle cx="469.25" cy="437.17" r="3.3"/><circle cx="470.02" cy="436.75" r="3.3"/><circle cx="470.79" cy="437.2" r="3.3"/><circle cx="471.56" cy="435.9" r="3.3"/><circle cx="472.33" cy="435.86" r="3.3"/><circle cx="473.1" cy="435.38" r="3.3"/><circle cx="473.87" cy="435.09" r="3.3"/><circle cx="474.64" cy="434.66" r="3.3"/><circle cx="475.41" cy="434.08" r="3.3"/><circle cx="476.19" cy="433.74" r="3.3"/><circle cx="476.96" cy="432.83" r="3.3"/><circle cx="477.73" cy="432.38" r="3.3"/><circle cx="478.5" cy="431.7" r="3.3"/><circle cx="479.27" cy="431.27" r="3.3"/><circle cx="480.04" cy="430.54" r="3.3"/><circle cx="480.81" cy="430.15" r="3.3"/><circle cx="481.58" cy="430.19" r="3.3"/><circle cx="482.35" cy="429.68" r="3.3"/><circle cx="483.12" cy="428.58" r="3.3"/><circle cx="483.9" cy="427.6" r="3.3"/><circle cx="484.67" cy="427.63" r="3.3"/><circle cx="485.44" cy="427.21" r="3.3"/><circle cx="486.21" cy="426.35" r="3.3"/><circle cx="486.98" cy="425.82" r="3.3"/><circle cx="487.75" cy="425.44" r="3.3"/><circle cx="488.52" cy="424.81" r="3.3"/><circle cx="489.29" cy="424.73" r="3.3"/><circle cx="490.06" cy="424.06" r="3.3"/><circle cx="490.83" cy="423.56" r="3.3"/><circle cx="491.61" cy="423.32" r="3.3"/><circle cx="492.38" cy="422.17" r="3.3"/><circle cx="493.15" cy="421.82" r="3.3"/><circle cx="493.92" cy="421.39" r="3.3"/><circle cx="494.69" cy="421.2" r="3.3"/><circle cx="495.46" cy="420.32" r="3.3"/><circle cx="496.23" cy="420.37" r="3.3"/><circle cx="497" cy="419.19" r="3.3"/><circle cx="497.77" cy="419.53" r="3.3"/><circle cx="498.54" cy="418.67" r="3.3"/><circle cx="499.32" cy="418.26" r="3.3"/><circle cx="500.09" cy="417.33" r="3.3"/><circle cx="500.86" cy="416.73" r="3.3"/><circle cx="501.63" cy="416.35" r="3.3"/><circle cx="502.4" cy="415.59" r="3.3"/><circle cx="503.17" cy="415.35" r="3.3"/><circle cx="503.94" cy="414.4" r="3.3"/><circle cx="504.71" cy="414.49" r="3.3"/><circle cx="505.48" cy="413.83" r="3.3"/><circle cx="506.25" cy="412.98" r="3.3"/><circle cx="507.03" cy="412.42" r="3.3"/><circle cx="507.8" cy="411.91" r="3.3"/><circle cx="508.57" cy="411.75" r="3.3"/><circle cx="509.34" cy="411.16" r="3.3"/><circle cx="510.11" cy="410.02" r="3.3"/><circle cx="510.88" cy="410.07" r="3.3"/><circle cx="511.65" cy="409.81" r="3.3"/><circle cx="512.42" cy="409.16" r="3.3"/><circle cx="513.19" cy="408.46" r="3.3"/><circle cx="513.96" cy="407.69" r="3.3"/><circle cx="514.74" cy="408.05" r="3.3"/><circle cx="515.51" cy="406.67" r="3.3"/><circle cx="516.28" cy="406.44" r="3.3"/><circle cx="517.05" cy="406.3" r="3.3"/><circle cx="517.82" cy="405.85" r="3.3"/><circle cx="518.59" cy="405.22" r="3.3"/><circle cx="519.36" cy="404.55" r="3.3"/><circle cx="520.13" cy="404.36" r="3.3"/><circle cx="520.9" cy="403.85" r="3.3"/><circle cx="521.67" cy="403.65" r="3.3"/><circle cx="522.45" cy="402.94" r="3.3"/><circle cx="523.22" cy="402.63" r="3.3"/><circle cx="523.99" cy="401.87" r="3.3"/><circle cx="524.76" cy="401.55" r="3.3"/><circle cx="525.53" cy="401.33" r="3.3"/><circle cx="526.3" cy="400.64" r="3.3"/><circle cx="527.07" cy="400.46" r="3.3"/><circle cx="527.84" cy="399.69" r="3.3"/><circle cx="528.61" cy="399.74" r="3.3"/><circle cx="529.38" cy="399.13" r="3.3"/><circle cx="530.16" cy="398.27" r="3.3"/><circle cx="530.93" cy="398.31" r="3.3"/><circle cx="531.7" cy="397.83" r="3.3"/><circle cx="532.47" cy="397.64" r="3.3"/><circle cx="533.24" cy="397.51" r="3.3"/><circle cx="534.01" cy="396.76" r="3.3"/><circle cx="534.78" cy="396.61" r="3.3"/><circle cx="535.55" cy="396.31" r="3.3"/><circle cx="536.32" cy="395.45" r="3.3"/><circle cx="537.09" cy="394.62" r="3.3"/><circle cx="537.87" cy="394.35" r="3.3"/><circle cx="538.64" cy="394.33" r="3.3"/><circle cx="539.41" cy="393.3" r="3.3"/><circle cx="540.18" cy="392.63" r="3.3"/><circle cx="540.95" cy="393.11" r="3.3"/><circle cx="541.72" cy="392.32" r="3.3"/><circle cx="542.49" cy="391.69" r="3.3"/><circle cx="543.26" cy="391.03" r="3.3"/><circle cx="544.03" cy="391.27" r="3.3"/><circle cx="544.8" cy="390.78" r="3.3"/><circle cx="545.58" cy="389.81" r="3.3"/><circle cx="546.35" cy="389.58" r="3.3"/><circle cx="547.12" cy="388.87" r="3.3"/><circle cx="547.89" cy="387.72" r="3.3"/><circle cx="548.66" cy="386.58" r="3.3"/><circle cx="549.43" cy="385.93" r="3.3"/><circle cx="550.2" cy="385.06" r="3.3"/><circle cx="550.97" cy="384.28" r="3.3"/><circle cx="551.74" cy="383.41" r="3.3"/><circle cx="552.51" cy="382.57" r="3.3"/><circle cx="553.29" cy="381.61" r="3.3"/><circle cx="554.06" cy="380.35" r="3.3"/><circle cx="554.83" cy="379.59" r="3.3"/><circle cx="555.6" cy="378.77" r="3.3"/><circle cx="556.37" cy="377.71" r="3.3"/><circle cx="557.14" cy="376.57" r="3.3"/><circle cx="557.91" cy="375.22" r="3.3"/><circle cx="558.68" cy="374.98" r="3.3"/><circle cx="559.45" cy="373.8" r="3.3"/><circle cx="560.22" cy="371.95" r="3.3"/><circle cx="561" cy="371.01" r="3.3"/><circle cx="561.77" cy="369.41" r="3.3"/><circle cx="562.54" cy="367.42" r="3.3"/><circle cx="563.31" cy="366.89" r="3.3"/><circle cx="564.08" cy="365" r="3.3"/><circle cx="564.85" cy="364.59" r="3.3"/><circle cx="565.62" cy="362.91" r="3.3"/><circle cx="566.39" cy="361.43" r="3.3"/><circle cx="567.16" cy="359.7" r="3.3"/><circle cx="567.93" cy="357.96" r="3.3"/><circle cx="568.71" cy="355.83" r="3.3"/><circle cx="569.48" cy="353.66" r="3.3"/><circle cx="570.25" cy="352.37" r="3.3"/><circle cx="571.02" cy="349.32" r="3.3"/><circle cx="571.79" cy="347.24" r="3.3"/><circle cx="572.56" cy="346.4" r="3.3"/><circle cx="573.33" cy="345.14" r="3.3"/><circle cx="574.1" cy="342.94" r="3.3"/><circle cx="574.87" cy="341.41" r="3.3"/><circle cx="575.64" cy="340.27" r="3.3"/><circle cx="576.42" cy="339.03" r="3.3"/><circle cx="577.19" cy="338.71" r="3.3"/><circle cx="577.96" cy="338.72" r="3.3"/><circle cx="578.73" cy="338.94" r="3.3"/><circle cx="579.5" cy="339.33" r="3.3"/><circle cx="580.27" cy="338.8" r="3.3"/><circle cx="581.04" cy="339.52" r="3.3"/><circle cx="581.81" cy="340.33" r="3.3"/><circle cx="582.58" cy="342.18" r="3.3"/><circle cx="583.35" cy="344.64" r="3.3"/><circle cx="584.13" cy="349.48" r="3.3"/><circle cx="584.9" cy="354.29" r="3.3"/><circle cx="585.67" cy="356.9" r="3.3"/><circle cx="586.44" cy="359.81" r="3.3"/><circle cx="587.21" cy="362.33" r="3.3"/><circle cx="587.98" cy="363.94" r="3.3"/><circle cx="588.75" cy="366.1" r="3.3"/><circle cx="589.52" cy="367.53" r="3.3"/><circle cx="590.29" cy="368.94" r="3.3"/><circle cx="591.06" cy="370.91" r="3.3"/><circle cx="591.84" cy="371.97" r="3.3"/><circle cx="592.61" cy="372.93" r="3.3"/><circle cx="593.38" cy="373.94" r="3.3"/><circle cx="594.15" cy="375.04" r="3.3"/><circle cx="594.92" cy="375.82" r="3.3"/><circle cx="595.69" cy="376.31" r="3.3"/><circle cx="596.46" cy="377.26" r="3.3"/><circle cx="597.23" cy="377.81" r="3.3"/><circle cx="598" cy="378.69" r="3.3"/><circle cx="598.77" cy="380.13" r="3.3"/><circle cx="599.55" cy="381.66" r="3.3"/><circle cx="600.32" cy="382.04" r="3.3"/><circle cx="601.09" cy="383.43" r="3.3"/><circle cx="601.86" cy="383.98" r="3.3"/><circle cx="602.63" cy="385.47" r="3.3"/><circle cx="603.4" cy="386.02" r="3.3"/><circle cx="604.17" cy="387.22" r="3.3"/><circle cx="604.94" cy="388.05" r="3.3"/><circle cx="605.71" cy="388.71" r="3.3"/><circle cx="606.48" cy="388.75" r="3.3"/><circle cx="607.26" cy="389.27" r="3.3"/><circle cx="608.03" cy="390.01" r="3.3"/><circle cx="608.8" cy="390.6" r="3.3"/><circle cx="609.57" cy="391.08" r="3.3"/><circle cx="610.34" cy="391.3" r="3.3"/><circle cx="611.11" cy="391.54" r="3.3"/><circle cx="611.88" cy="392.78" r="3.3"/><circle cx="612.65" cy="393.45" r="3.3"/><circle cx="613.42" cy="394.08" r="3.3"/><circle cx="614.19" cy="394.44" r="3.3"/><circle cx="614.97" cy="394.56" r="3.3"/><circle cx="615.74" cy="395.44" r="3.3"/><circle cx="616.51" cy="395" r="3.3"/><circle cx="617.28" cy="395.4" r="3.3"/><circle cx="618.05" cy="395.95" r="3.3"/><circle cx="618.82" cy="397.08" r="3.3"/><circle cx="619.59" cy="397.01" r="3.3"/><circle cx="620.36" cy="397.42" r="3.3"/><circle cx="621.13" cy="398.51" r="3.3"/><circle cx="621.9" cy="398.77" r="3.3"/><circle cx="622.68" cy="398.55" r="3.3"/><circle cx="623.45" cy="399.76" r="3.3"/><circle cx="624.22" cy="399.91" r="3.3"/><circle cx="624.99" cy="400.63" r="3.3"/><circle cx="625.76" cy="400.62" r="3.3"/><circle cx="626.53" cy="401.33" r="3.3"/><circle cx="627.3" cy="402.39" r="3.3"/><circle cx="628.07" cy="402" r="3.3"/><circle cx="628.84" cy="402.01" r="3.3"/><circle cx="629.61" cy="402.95" r="3.3"/><circle cx="630.39" cy="402.99" r="3.3"/><circle cx="631.16" cy="403.69" r="3.3"/><circle cx="631.93" cy="404.1" r="3.3"/><circle cx="632.7" cy="403.94" r="3.3"/><circle cx="633.47" cy="403.58" r="3.3"/><circle cx="634.24" cy="404.57" r="3.3"/><circle cx="635.01" cy="405.61" r="3.3"/><circle cx="635.78" cy="405.01" r="3.3"/><circle cx="636.55" cy="406.69" r="3.3"/><circle cx="637.32" cy="406.87" r="3.3"/><circle cx="638.1" cy="407.67" r="3.3"/><circle cx="638.87" cy="408.43" r="3.3"/><circle cx="639.64" cy="408.83" r="3.3"/><circle cx="640.41" cy="410.19" r="3.3"/><circle cx="641.18" cy="410.24" r="3.3"/><circle cx="641.95" cy="411.13" r="3.3"/><circle cx="642.72" cy="411.53" r="3.3"/><circle cx="643.49" cy="412.26" r="3.3"/><circle cx="644.26" cy="412.41" r="3.3"/><circle cx="645.03" cy="413.23" r="3.3"/><circle cx="645.81" cy="412.75" r="3.3"/><circle cx="646.58" cy="414.32" r="3.3"/><circle cx="647.35" cy="414.08" r="3.3"/><circle cx="648.12" cy="415.04" r="3.3"/><circle cx="648.89" cy="414.83" r="3.3"/><circle cx="649.66" cy="415.84" r="3.3"/><circle cx="650.43" cy="415.9" r="3.3"/><circle cx="651.2" cy="416.6" r="3.3"/><circle cx="651.97" cy="416.67" r="3.3"/><circle cx="652.74" cy="417.51" r="3.3"/><circle cx="653.52" cy="418.05" r="3.3"/><circle cx="654.29" cy="419.21" r="3.3"/><circle cx="655.06" cy="419.43" r="3.3"/><circle cx="655.83" cy="419.48" r="3.3"/><circle cx="656.6" cy="420.81" r="3.3"/><circle cx="657.37" cy="420.62" r="3.3"/><circle cx="658.14" cy="421.46" r="3.3"/><circle cx="658.91" cy="421.32" r="3.3"/><circle cx="659.68" cy="422.41" r="3.3"/><circle cx="660.45" cy="422.49" r="3.3"/><circle cx="661.23" cy="423.63" r="3.3"/><circle cx="662" cy="423.12" r="3.3"/><circle cx="662.77" cy="424.25" r="3.3"/><circle cx="663.54" cy="424.87" r="3.3"/><circle cx="664.31" cy="425.17" r="3.3"/><circle cx="665.08" cy="424.89" r="3.3"/></g>
<g fill="#f49a7b"><circle cx="451.9" cy="440.24" r="3.3"/><circle cx="452.67" cy="439.39" r="3.3"/><circle cx="453.44" cy="439.55" r="3.3"/><circle cx="454.21" cy="439.4" r="3.3"/><circle cx="454.98" cy="439.3" r="3.3"/><circle cx="455.76" cy="439.18" r="3.3"/><circle cx="456.53" cy="439.1" r="3.3"/><circle cx="457.3" cy="438.66" r="3.3"/><circle cx="458.07" cy="438.12" r="3.3"/><circle cx="458.84" cy="437.86" r="3.3"/><circle cx="459.61" cy="437.99" r="3.3"/><circle cx="460.38" cy="438.02" r="3.3"/><circle cx="461.15" cy="437.35" r="3.3"/><circle cx="461.92" cy="437.37" r="3.3"/><circle cx="462.69" cy="437.3" r="3.3"/><circle cx="463.47" cy="437.11" r="3.3"/><circle cx="464.24" cy="436.87" r="3.3"/><circle cx="465.01" cy="436.37" r="3.3"/><circle cx="465.78" cy="436.54" r="3.3"/><circle cx="466.55" cy="435.83" r="3.3"/><circle cx="467.32" cy="436.42" r="3.3"/><circle cx="468.09" cy="435.06" r="3.3"/><circle cx="468.86" cy="435.26" r="3.3"/><circle cx="469.63" cy="434.89" r="3.3"/><circle cx="470.4" cy="434.85" r="3.3"/><circle cx="471.18" cy="434.87" r="3.3"/><circle cx="471.95" cy="434.26" r="3.3"/><circle cx="472.72" cy="433.97" r="3.3"/><circle cx="473.49" cy="433.56" r="3.3"/><circle cx="474.26" cy="433.45" r="3.3"/><circle cx="475.03" cy="433.28" r="3.3"/><circle cx="475.8" cy="432.8" r="3.3"/><circle cx="476.57" cy="433.11" r="3.3"/><circle cx="477.34" cy="432.28" r="3.3"/><circle cx="478.11" cy="431.98" r="3.3"/><circle cx="478.89" cy="431.91" r="3.3"/><circle cx="479.66" cy="431.74" r="3.3"/><circle cx="480.43" cy="431.44" r="3.3"/><circle cx="481.2" cy="431.03" r="3.3"/><circle cx="481.97" cy="430.83" r="3.3"/><circle cx="482.74" cy="430.14" r="3.3"/><circle cx="483.51" cy="430.25" r="3.3"/><circle cx="484.28" cy="430.01" r="3.3"/><circle cx="485.05" cy="430.02" r="3.3"/><circle cx="485.82" cy="428.64" r="3.3"/><circle cx="486.6" cy="428.87" r="3.3"/><circle cx="487.37" cy="428.44" r="3.3"/><circle cx="488.14" cy="428.12" r="3.3"/><circle cx="488.91" cy="427.74" r="3.3"/><circle cx="489.68" cy="426.91" r="3.3"/><circle cx="490.45" cy="426.32" r="3.3"/><circle cx="491.22" cy="426.46" r="3.3"/><circle cx="491.99" cy="425.94" r="3.3"/><circle cx="492.76" cy="425.15" r="3.3"/><circle cx="493.53" cy="424.93" r="3.3"/><circle cx="494.31" cy="424.03" r="3.3"/><circle cx="495.08" cy="423.71" r="3.3"/><circle cx="495.85" cy="423.65" r="3.3"/><circle cx="496.62" cy="422.72" r="3.3"/><circle cx="497.39" cy="422.39" r="3.3"/><circle cx="498.16" cy="421.5" r="3.3"/><circle cx="498.93" cy="420.65" r="3.3"/><circle cx="499.7" cy="420.68" r="3.3"/><circle cx="500.47" cy="420.41" r="3.3"/><circle cx="501.24" cy="419.7" r="3.3"/><circle cx="502.02" cy="419.51" r="3.3"/><circle cx="502.79" cy="418.29" r="3.3"/><circle cx="503.56" cy="417.85" r="3.3"/><circle cx="504.33" cy="417.63" r="3.3"/><circle cx="505.1" cy="417.65" r="3.3"/><circle cx="505.87" cy="416.18" r="3.3"/><circle cx="506.64" cy="415.23" r="3.3"/><circle cx="507.41" cy="415.31" r="3.3"/><circle cx="508.18" cy="414.69" r="3.3"/><circle cx="508.95" cy="413.83" r="3.3"/><circle cx="509.73" cy="413.6" r="3.3"/><circle cx="510.5" cy="413.41" r="3.3"/><circle cx="511.27" cy="412.81" r="3.3"/><circle cx="512.04" cy="411.92" r="3.3"/><circle cx="512.81" cy="411.62" r="3.3"/><circle cx="513.58" cy="411.44" r="3.3"/><circle cx="514.35" cy="410.89" r="3.3"/><circle cx="515.12" cy="410.25" r="3.3"/><circle cx="515.89" cy="409.64" r="3.3"/><circle cx="516.66" cy="409.3" r="3.3"/><circle cx="517.44" cy="409.4" r="3.3"/><circle cx="518.21" cy="408.51" r="3.3"/><circle cx="518.98" cy="407.88" r="3.3"/><circle cx="519.75" cy="407.92" r="3.3"/><circle cx="520.52" cy="407.05" r="3.3"/><circle cx="521.29" cy="406.63" r="3.3"/><circle cx="522.06" cy="405.93" r="3.3"/><circle cx="522.83" cy="406.1" r="3.3"/><circle cx="523.6" cy="405.32" r="3.3"/><circle cx="524.37" cy="405.03" r="3.3"/><circle cx="525.15" cy="404.03" r="3.3"/><circle cx="525.92" cy="403.73" r="3.3"/><circle cx="526.69" cy="402.91" r="3.3"/><circle cx="527.46" cy="402.71" r="3.3"/><circle cx="528.23" cy="401.86" r="3.3"/><circle cx="529" cy="401.85" r="3.3"/><circle cx="529.77" cy="400.82" r="3.3"/><circle cx="530.54" cy="400.41" r="3.3"/><circle cx="531.31" cy="399.32" r="3.3"/><circle cx="532.08" cy="399.39" r="3.3"/><circle cx="532.86" cy="398.27" r="3.3"/><circle cx="533.63" cy="397.38" r="3.3"/><circle cx="534.4" cy="396.99" r="3.3"/><circle cx="535.17" cy="396.37" r="3.3"/><circle cx="535.94" cy="395.9" r="3.3"/><circle cx="536.71" cy="395.2" r="3.3"/><circle cx="537.48" cy="394.06" r="3.3"/><circle cx="538.25" cy="393.57" r="3.3"/><circle cx="539.02" cy="393.19" r="3.3"/><circle cx="539.79" cy="393.03" r="3.3"/><circle cx="540.57" cy="391.81" r="3.3"/><circle cx="541.34" cy="391.14" r="3.3"/><circle cx="542.11" cy="391.22" r="3.3"/><circle cx="542.88" cy="390.03" r="3.3"/><circle cx="543.65" cy="388.69" r="3.3"/><circle cx="544.42" cy="389.69" r="3.3"/><circle cx="545.19" cy="388.07" r="3.3"/><circle cx="545.96" cy="388.08" r="3.3"/><circle cx="546.73" cy="386.64" r="3.3"/><circle cx="547.5" cy="385.85" r="3.3"/><circle cx="548.28" cy="385.21" r="3.3"/><circle cx="549.05" cy="384.29" r="3.3"/><circle cx="549.82" cy="383.29" r="3.3"/><circle cx="550.59" cy="383.16" r="3.3"/><circle cx="551.36" cy="382.74" r="3.3"/><circle cx="552.13" cy="381.73" r="3.3"/><circle cx="552.9" cy="380.64" r="3.3"/><circle cx="553.67" cy="378.87" r="3.3"/><circle cx="554.44" cy="378.42" r="3.3"/><circle cx="555.21" cy="376.57" r="3.3"/><circle cx="555.99" cy="375.85" r="3.3"/><circle cx="556.76" cy="374.4" r="3.3"/><circle cx="557.53" cy="373.05" r="3.3"/><circle cx="558.3" cy="371.37" r="3.3"/><circle cx="559.07" cy="368.64" r="3.3"/><circle cx="559.84" cy="366.98" r="3.3"/><circle cx="560.61" cy="365.24" r="3.3"/><circle cx="561.38" cy="363.29" r="3.3"/><circle cx="562.15" cy="360.41" r="3.3"/><circle cx="562.92" cy="358.39" r="3.3"/><circle cx="563.7" cy="355.41" r="3.3"/><circle cx="564.47" cy="352.1" r="3.3"/><circle cx="565.24" cy="349.91" r="3.3"/><circle cx="566.01" cy="348.09" r="3.3"/><circle cx="566.78" cy="345.37" r="3.3"/><circle cx="567.55" cy="344.28" r="3.3"/><circle cx="568.32" cy="343.4" r="3.3"/><circle cx="569.09" cy="343.15" r="3.3"/><circle cx="569.86" cy="342.27" r="3.3"/><circle cx="570.63" cy="343.2" r="3.3"/><circle cx="571.41" cy="343.46" r="3.3"/><circle cx="572.18" cy="346.89" r="3.3"/><circle cx="572.95" cy="349.48" r="3.3"/><circle cx="573.72" cy="352.42" r="3.3"/><circle cx="574.49" cy="354.41" r="3.3"/><circle cx="575.26" cy="357.7" r="3.3"/><circle cx="576.03" cy="360.18" r="3.3"/><circle cx="576.8" cy="362.21" r="3.3"/><circle cx="577.57" cy="363.87" r="3.3"/><circle cx="578.34" cy="365.58" r="3.3"/><circle cx="579.12" cy="367.24" r="3.3"/><circle cx="579.89" cy="368.87" r="3.3"/><circle cx="580.66" cy="370.63" r="3.3"/><circle cx="581.43" cy="371.55" r="3.3"/><circle cx="582.2" cy="373.14" r="3.3"/><circle cx="582.97" cy="373.92" r="3.3"/><circle cx="583.74" cy="375.02" r="3.3"/><circle cx="584.51" cy="376.53" r="3.3"/><circle cx="585.28" cy="377.2" r="3.3"/><circle cx="586.05" cy="378.13" r="3.3"/><circle cx="586.83" cy="378.04" r="3.3"/><circle cx="587.6" cy="379.34" r="3.3"/><circle cx="588.37" cy="380.21" r="3.3"/><circle cx="589.14" cy="380.96" r="3.3"/><circle cx="589.91" cy="381.88" r="3.3"/><circle cx="590.68" cy="382.63" r="3.3"/><circle cx="591.45" cy="384.74" r="3.3"/><circle cx="592.22" cy="385.32" r="3.3"/><circle cx="592.99" cy="386.03" r="3.3"/><circle cx="593.76" cy="387.15" r="3.3"/><circle cx="594.54" cy="388.41" r="3.3"/><circle cx="595.31" cy="388.86" r="3.3"/><circle cx="596.08" cy="389.59" r="3.3"/><circle cx="596.85" cy="390.2" r="3.3"/><circle cx="597.62" cy="391.17" r="3.3"/><circle cx="598.39" cy="392.03" r="3.3"/><circle cx="599.16" cy="391.45" r="3.3"/><circle cx="599.93" cy="392.34" r="3.3"/><circle cx="600.7" cy="392.79" r="3.3"/><circle cx="601.47" cy="392.88" r="3.3"/><circle cx="602.25" cy="394" r="3.3"/><circle cx="603.02" cy="394.6" r="3.3"/><circle cx="603.79" cy="394.96" r="3.3"/><circle cx="604.56" cy="395.72" r="3.3"/><circle cx="605.33" cy="395.39" r="3.3"/><circle cx="606.1" cy="396.04" r="3.3"/><circle cx="606.87" cy="396.38" r="3.3"/><circle cx="607.64" cy="397.19" r="3.3"/><circle cx="608.41" cy="397.41" r="3.3"/><circle cx="609.18" cy="398.11" r="3.3"/><circle cx="609.96" cy="399.15" r="3.3"/><circle cx="610.73" cy="399" r="3.3"/><circle cx="611.5" cy="399.44" r="3.3"/><circle cx="612.27" cy="399.32" r="3.3"/><circle cx="613.04" cy="400.38" r="3.3"/><circle cx="613.81" cy="401.03" r="3.3"/><circle cx="614.58" cy="401.43" r="3.3"/><circle cx="615.35" cy="402.37" r="3.3"/><circle cx="616.12" cy="402.07" r="3.3"/><circle cx="616.89" cy="402.98" r="3.3"/><circle cx="617.67" cy="403.33" r="3.3"/><circle cx="618.44" cy="404.63" r="3.3"/><circle cx="619.21" cy="404.35" r="3.3"/><circle cx="619.98" cy="404.86" r="3.3"/><circle cx="620.75" cy="405.73" r="3.3"/><circle cx="621.52" cy="406.1" r="3.3"/><circle cx="622.29" cy="406.88" r="3.3"/><circle cx="623.06" cy="408" r="3.3"/><circle cx="623.83" cy="408.28" r="3.3"/><circle cx="624.6" cy="408.58" r="3.3"/><circle cx="625.38" cy="409.6" r="3.3"/><circle cx="626.15" cy="409.76" r="3.3"/><circle cx="626.92" cy="410.16" r="3.3"/><circle cx="627.69" cy="411.49" r="3.3"/><circle cx="628.46" cy="411.66" r="3.3"/><circle cx="629.23" cy="412.18" r="3.3"/><circle cx="630" cy="412.86" r="3.3"/><circle cx="630.77" cy="413.29" r="3.3"/><circle cx="631.54" cy="413.49" r="3.3"/><circle cx="632.31" cy="413.6" r="3.3"/><circle cx="633.09" cy="414.68" r="3.3"/><circle cx="633.86" cy="415.09" r="3.3"/><circle cx="634.63" cy="415.03" r="3.3"/><circle cx="635.4" cy="414.97" r="3.3"/><circle cx="636.17" cy="416.14" r="3.3"/><circle cx="636.94" cy="416.59" r="3.3"/><circle cx="637.71" cy="417.4" r="3.3"/><circle cx="638.48" cy="417.51" r="3.3"/><circle cx="639.25" cy="418.76" r="3.3"/><circle cx="640.02" cy="419.63" r="3.3"/><circle cx="640.8" cy="420.24" r="3.3"/><circle cx="641.57" cy="420.34" r="3.3"/><circle cx="642.34" cy="421.03" r="3.3"/><circle cx="643.11" cy="421.67" r="3.3"/><circle cx="643.88" cy="422.2" r="3.3"/><circle cx="644.65" cy="423.01" r="3.3"/><circle cx="645.42" cy="422.95" r="3.3"/><circle cx="646.19" cy="423.74" r="3.3"/><circle cx="646.96" cy="424.13" r="3.3"/><circle cx="647.73" cy="424.55" r="3.3"/><circle cx="648.51" cy="424.83" r="3.3"/><circle cx="649.28" cy="426.03" r="3.3"/><circle cx="650.05" cy="426.69" r="3.3"/><circle cx="650.82" cy="427.2" r="3.3"/><circle cx="651.59" cy="427.54" r="3.3"/><circle cx="652.36" cy="428.11" r="3.3"/><circle cx="653.13" cy="428.35" r="3.3"/><circle cx="653.9" cy="428.97" r="3.3"/><circle cx="654.67" cy="429.28" r="3.3"/><circle cx="655.44" cy="430.26" r="3.3"/><circle cx="656.22" cy="431.05" r="3.3"/><circle cx="656.99" cy="431.51" r="3.3"/><circle cx="657.76" cy="431.73" r="3.3"/><circle cx="658.53" cy="432.81" r="3.3"/><circle cx="659.3" cy="432.81" r="3.3"/><circle cx="660.07" cy="434.13" r="3.3"/><circle cx="660.84" cy="433.82" r="3.3"/><circle cx="661.61" cy="434.51" r="3.3"/><circle cx="662.38" cy="435.13" r="3.3"/><circle cx="663.15" cy="435.75" r="3.3"/><circle cx="663.93" cy="435.92" r="3.3"/><circle cx="664.7" cy="436.24" r="3.3"/><circle cx="665.47" cy="435.66" r="3.3"/></g>
<g fill="#b40426"><circle cx="449.2" cy="421.59" r="3.3"/><circle cx="449.97" cy="421.28" r="3.3"/><circle cx="450.74" cy="420.4" r="3.3"/><circle cx="451.51" cy="420.74" r="3.3"/><circle cx="452.28" cy="420.13" r="3.3"/><circle cx="453.06" cy="419.87" r="3.3"/><circle cx="453.83" cy="419.58" r="3.3"/><circle cx="454.6" cy="419.94" r="3.3"/><circle cx="455.37" cy="419.42" r="3.3"/><circle cx="456.14" cy="419.13" r="3.3"/><circle cx="456.91" cy="418.88" r="3.3"/><circle cx="457.68" cy="418.38" r="3.3"/><circle cx="458.45" cy="417.66" r="3.3"/><circle cx="459.22" cy="417.12" r="3.3"/><circle cx="459.99" cy="417.08" r="3.3"/><circle cx="460.77" cy="416.81" r="3.3"/><circle cx="461.54" cy="417.07" r="3.3"/><circle cx="462.31" cy="416.61" r="3.3"/><circle cx="463.08" cy="416.43" r="3.3"/><circle cx="463.85" cy="415.52" r="3.3"/><circle cx="464.62" cy="415" r="3.3"/><circle cx="465.39" cy="415.23" r="3.3"/><circle cx="466.16" cy="414.81" r="3.3"/><circle cx="466.93" cy="414.08" r="3.3"/><circle cx="467.7" cy="413.35" r="3.3"/><circle cx="468.48" cy="412.94" r="3.3"/><circle cx="469.25" cy="412.68" r="3.3"/><circle cx="470.02" cy="412.24" r="3.3"/><circle cx="470.79" cy="412.68" r="3.3"/><circle cx="471.56" cy="411.38" r="3.3"/><circle cx="472.33" cy="411.32" r="3.3"/><circle cx="473.1" cy="410.83" r="3.3"/><circle cx="473.87" cy="410.53" r="3.3"/><circle cx="474.64" cy="410.1" r="3.3"/><circle cx="475.41" cy="409.5" r="3.3"/><circle cx="476.19" cy="409.17" r="3.3"/><circle cx="476.96" cy="408.28" r="3.3"/><circle cx="477.73" cy="407.86" r="3.3"/><circle cx="478.5" cy="407.22" r="3.3"/><circle cx="479.27" cy="406.85" r="3.3"/><circle cx="480.04" cy="406.16" r="3.3"/><circle cx="480.81" cy="405.83" r="3.3"/><circle cx="481.58" cy="405.91" r="3.3"/><circle cx="482.35" cy="405.42" r="3.3"/><circle cx="483.12" cy="404.32" r="3.3"/><circle cx="483.9" cy="403.32" r="3.3"/><circle cx="484.67" cy="403.3" r="3.3"/><circle cx="485.44" cy="402.81" r="3.3"/><circle cx="486.21" cy="401.87" r="3.3"/><circle cx="486.98" cy="401.25" r="3.3"/><circle cx="487.75" cy="400.78" r="3.3"/><circle cx="488.52" cy="400.04" r="3.3"/><circle cx="489.29" cy="399.87" r="3.3"/><circle cx="490.06" cy="399.1" r="3.3"/><circle cx="490.83" cy="398.51" r="3.3"/><circle cx="491.61" cy="398.19" r="3.3"/><circle cx="492.38" cy="396.96" r="3.3"/><circle cx="493.15" cy="396.53" r="3.3"/><circle cx="493.92" cy="396.01" r="3.3"/><circle cx="494.69" cy="395.73" r="3.3"/><circle cx="495.46" cy="394.76" r="3.3"/><circle cx="496.23" cy="394.7" r="3.3"/><circle cx="497" cy="393.38" r="3.3"/><circle cx="497.77" cy="393.58" r="3.3"/><circle cx="498.54" cy="392.56" r="3.3"/><circle cx="499.32" cy="391.97" r="3.3"/><circle cx="500.09" cy="390.82" r="3.3"/><circle cx="500.86" cy="389.99" r="3.3"/><circle cx="501.63" cy="389.36" r="3.3"/><circle cx="502.4" cy="388.34" r="3.3"/><circle cx="503.17" cy="387.82" r="3.3"/><circle cx="503.94" cy="386.59" r="3.3"/><circle cx="504.71" cy="386.38" r="3.3"/><circle cx="505.48" cy="385.41" r="3.3"/><circle cx="506.25" cy="384.22" r="3.3"/><circle cx="507.03" cy="383.3" r="3.3"/><circle cx="507.8" cy="382.4" r="3.3"/><circle cx="508.57" cy="381.84" r="3.3"/><circle cx="509.34" cy="380.81" r="3.3"/><circle cx="510.11" cy="379.23" r="3.3"/><circle cx="510.88" cy="378.81" r="3.3"/><circle cx="511.65" cy="378.08" r="3.3"/><circle cx="512.42" cy="376.95" r="3.3"/><circle cx="513.19" cy="375.76" r="3.3"/><circle cx="513.96" cy="374.52" r="3.3"/><circle cx="514.74" cy="374.41" r="3.3"/><circle cx="515.51" cy="372.57" r="3.3"/><circle cx="516.28" cy="371.88" r="3.3"/><circle cx="517.05" cy="371.27" r="3.3"/><circle cx="517.82" cy="370.35" r="3.3"/><circle cx="518.59" cy="369.25" r="3.3"/><circle cx="519.36" cy="368.12" r="3.3"/><circle cx="520.13" cy="367.44" r="3.3"/><circle cx="520.9" cy="366.45" r="3.3"/><circle cx="521.67" cy="365.78" r="3.3"/><circle cx="522.45" cy="364.57" r="3.3"/><circle cx="523.22" cy="363.77" r="3.3"/><circle cx="523.99" cy="362.52" r="3.3"/><circle cx="524.76" cy="361.71" r="3.3"/><circle cx="525.53" cy="360.99" r="3.3"/><circle cx="526.3" cy="359.8" r="3.3"/><circle cx="527.07" cy="359.11" r="3.3"/><circle cx="527.84" cy="357.83" r="3.3"/><circle cx="528.61" cy="357.37" r="3.3"/><circle cx="529.38" cy="356.25" r="3.3"/><circle cx="530.16" cy="354.86" r="3.3"/><circle cx="530.93" cy="354.38" r="3.3"/><circle cx="531.7" cy="353.37" r="3.3"/><circle cx="532.47" cy="352.64" r="3.3"/><circle cx="533.24" cy="351.98" r="3.3"/><circle cx="534.01" cy="350.68" r="3.3"/><circle cx="534.78" cy="349.97" r="3.3"/><circle cx="535.55" cy="349.1" r="3.3"/><circle cx="536.32" cy="347.64" r="3.3"/><circle cx="537.09" cy="346.18" r="3.3"/><circle cx="537.87" cy="345.27" r="3.3"/><circle cx="538.64" cy="344.6" r="3.3"/><circle cx="539.41" cy="342.91" r="3.3"/><circle cx="540.18" cy="341.59" r="3.3"/><circle cx="540.95" cy="341.43" r="3.3"/><circle cx="541.72" cy="340.01" r="3.3"/><circle cx="542.49" cy="338.77" r="3.3"/><circle cx="543.26" cy="337.54" r="3.3"/><circle cx="544.03" cy="337.25" r="3.3"/><circle cx="544.8" cy="336.27" r="3.3"/><circle cx="545.58" cy="334.85" r="3.3"/><circle cx="546.35" cy="334.25" r="3.3"/><circle cx="547.12" cy="333.22" r="3.3"/><circle cx="547.89" cy="331.79" r="3.3"/><circle cx="548.66" cy="330.41" r="3.3"/><circle cx="549.43" cy="329.55" r="3.3"/><circle cx="550.2" cy="328.5" r="3.3"/><circle cx="550.97" cy="327.55" r="3.3"/><circle cx="551.74" cy="326.51" r="3.3"/><circle cx="552.51" cy="325.52" r="3.3"/><circle cx="553.29" cy="324.44" r="3.3"/><circle cx="554.06" cy="323.07" r="3.3"/><circle cx="554.83" cy="322.19" r="3.3"/><circle cx="555.6" cy="321.25" r="3.3"/><circle cx="556.37" cy="320.08" r="3.3"/><circle cx="557.14" cy="318.83" r="3.3"/><circle cx="557.91" cy="317.34" r="3.3"/><circle cx="558.68" cy="316.97" r="3.3"/><circle cx="559.45" cy="315.68" r="3.3"/><circle cx="560.22" cy="313.69" r="3.3"/><circle cx="561" cy="312.53" r="3.3"/><circle cx="561.77" cy="310.59" r="3.3"/><circle cx="562.54" cy="308.08" r="3.3"/><circle cx="563.31" cy="306.72" r="3.3"/><circle cx="564.08" cy="303.69" r="3.3"/><circle cx="564.85" cy="301.94" r="3.3"/><circle cx="565.62" cy="298.82" r="3.3"/><circle cx="566.39" cy="295.89" r="3.3"/><circle cx="567.16" cy="292.59" r="3.3"/><circle cx="567.93" cy="288.97" r="3.3"/><circle cx="568.71" cy="285.34" r="3.3"/><circle cx="569.48" cy="282.32" r="3.3"/><circle cx="570.25" cy="280.46" r="3.3"/><circle cx="571.02" cy="277.12" r="3.3"/><circle cx="571.79" cy="275.01" r="3.3"/><circle cx="572.56" cy="274.19" r="3.3"/><circle cx="573.33" cy="273.4" r="3.3"/><circle cx="574.1" cy="272.19" r="3.3"/><circle cx="574.87" cy="272.61" r="3.3"/><circle cx="575.64" cy="274.48" r="3.3"/><circle cx="576.42" cy="278.97" r="3.3"/><circle cx="582.58" cy="319.77" r="3.3"/><circle cx="583.35" cy="323.26" r="3.3"/><circle cx="584.13" cy="325.93" r="3.3"/><circle cx="584.9" cy="329.13" r="3.3"/><circle cx="585.67" cy="330.77" r="3.3"/><circle cx="586.44" cy="332.98" r="3.3"/><circle cx="587.21" cy="334.97" r="3.3"/><circle cx="587.98" cy="336.29" r="3.3"/><circle cx="588.75" cy="338.36" r="3.3"/><circle cx="589.52" cy="339.75" r="3.3"/><circle cx="590.29" cy="341.17" r="3.3"/><circle cx="591.06" cy="343.13" r="3.3"/><circle cx="591.84" cy="344.13" r="3.3"/><circle cx="592.61" cy="344.99" r="3.3"/><circle cx="593.38" cy="345.89" r="3.3"/><circle cx="594.15" cy="346.9" r="3.3"/><circle cx="594.92" cy="347.6" r="3.3"/><circle cx="595.69" cy="348.01" r="3.3"/><circle cx="596.46" cy="348.87" r="3.3"/><circle cx="597.23" cy="349.34" r="3.3"/><circle cx="598" cy="350.08" r="3.3"/><circle cx="598.77" cy="351.3" r="3.3"/><circle cx="599.55" cy="352.52" r="3.3"/><circle cx="600.32" cy="352.5" r="3.3"/><circle cx="601.09" cy="353.43" r="3.3"/><circle cx="601.86" cy="353.5" r="3.3"/><circle cx="602.63" cy="354.53" r="3.3"/><circle cx="603.4" cy="354.69" r="3.3"/><circle cx="604.17" cy="355.59" r="3.3"/><circle cx="604.94" cy="356.29" r="3.3"/><circle cx="605.71" cy="356.97" r="3.3"/><circle cx="606.48" cy="357.12" r="3.3"/><circle cx="607.26" cy="357.83" r="3.3"/><circle cx="608.03" cy="358.78" r="3.3"/><circle cx="608.8" cy="359.58" r="3.3"/><circle cx="609.57" cy="360.23" r="3.3"/><circle cx="610.34" cy="360.55" r="3.3"/><circle cx="611.11" cy="360.79" r="3.3"/><circle cx="611.88" cy="362.01" r="3.3"/><circle cx="612.65" cy="362.64" r="3.3"/><circle cx="613.42" cy="363.23" r="3.3"/><circle cx="614.19" cy="363.58" r="3.3"/><circle cx="614.97" cy="363.73" r="3.3"/><circle cx="615.74" cy="364.69" r="3.3"/><circle cx="616.51" cy="364.36" r="3.3"/><circle cx="617.28" cy="364.89" r="3.3"/><circle cx="618.05" cy="365.57" r="3.3"/><circle cx="618.82" cy="366.81" r="3.3"/><circle cx="619.59" cy="366.83" r="3.3"/><circle cx="620.36" cy="367.28" r="3.3"/><circle cx="621.13" cy="368.36" r="3.3"/><circle cx="621.9" cy="368.57" r="3.3"/><circle cx="622.68" cy="368.29" r="3.3"/><circle cx="623.45" cy="369.43" r="3.3"/><circle cx="624.22" cy="369.51" r="3.3"/><circle cx="624.99" cy="370.18" r="3.3"/><circle cx="625.76" cy="370.14" r="3.3"/><circle cx="626.53" cy="370.82" r="3.3"/><circle cx="627.3" cy="371.87" r="3.3"/><circle cx="628.07" cy="371.47" r="3.3"/><circle cx="628.84" cy="371.47" r="3.3"/><circle cx="629.61" cy="372.42" r="3.3"/><circle cx="630.39" cy="372.48" r="3.3"/><circle cx="631.16" cy="373.25" r="3.3"/><circle cx="631.93" cy="373.73" r="3.3"/><circle cx="632.7" cy="373.67" r="3.3"/><circle cx="633.47" cy="373.39" r="3.3"/><circle cx="634.24" cy="374.41" r="3.3"/><circle cx="635.01" cy="375.44" r="3.3"/><circle cx="635.78" cy="374.73" r="3.3"/><circle cx="636.55" cy="376.2" r="3.3"/><circle cx="637.32" cy="376.11" r="3.3"/><circle cx="638.1" cy="376.59" r="3.3"/><circle cx="638.87" cy="377.03" r="3.3"/><circle cx="639.64" cy="377.12" r="3.3"/><circle cx="640.41" cy="378.21" r="3.3"/><circle cx="641.18" cy="378.06" r="3.3"/><circle cx="641.95" cy="378.82" r="3.3"/><circle cx="642.72" cy="379.12" r="3.3"/><circle cx="643.49" cy="379.78" r="3.3"/><circle cx="644.26" cy="379.88" r="3.3"/><circle cx="645.03" cy="380.67" r="3.3"/><circle cx="645.81" cy="380.18" r="3.3"/><circle cx="646.58" cy="381.76" r="3.3"/><circle cx="647.35" cy="381.54" r="3.3"/><circle cx="648.12" cy="382.54" r="3.3"/><circle cx="648.89" cy="382.37" r="3.3"/><circle cx="649.66" cy="383.42" r="3.3"/><circle cx="650.43" cy="383.52" r="3.3"/><circle cx="651.2" cy="384.25" r="3.3"/><circle cx="651.97" cy="384.36" r="3.3"/><circle cx="652.74" cy="385.21" r="3.3"/><circle cx="653.52" cy="385.75" r="3.3"/><circle cx="654.29" cy="386.91" r="3.3"/><circle cx="655.06" cy="387.11" r="3.3"/><circle cx="655.83" cy="387.15" r="3.3"/><circle cx="656.6" cy="388.45" r="3.3"/><circle cx="657.37" cy="388.26" r="3.3"/><circle cx="658.14" cy="389.08" r="3.3"/><circle cx="658.91" cy="388.94" r="3.3"/><circle cx="659.68" cy="390.04" r="3.3"/><circle cx="660.45" cy="390.14" r="3.3"/><circle cx="661.23" cy="391.32" r="3.3"/><circle cx="662" cy="390.87" r="3.3"/><circle cx="662.77" cy="392.08" r="3.3"/><circle cx="663.54" cy="392.8" r="3.3"/><circle cx="664.31" cy="393.24" r="3.3"/><circle cx="665.08" cy="393.12" r="3.3"/><circle cx="577.1" cy="280.4" r="3.05"/><circle cx="577.9" cy="286.7" r="3.05"/><circle cx="578.6" cy="294.7" r="3.05"/><circle cx="579.1" cy="300.6" r="3.05"/><circle cx="579.9" cy="305" r="3.05"/><circle cx="581.1" cy="311.3" r="3.05"/><circle cx="581.9" cy="315.7" r="3.05"/></g>
</g>
<rect x="543" y="261.8" width="41.2" height="205.7" fill="url(#gbl)" />
<rect x="447.1" y="353.9" width="92.4" height="37.3" fill="#a0c4e6" fill-opacity="0.5"/>
<rect x="591.1" y="291.9" width="87.1" height="37.3" fill="#f5636b" fill-opacity="0.5"/>
<rect x="434.5" y="258.5" width="249.7" height="209" fill="none" stroke="#707070" stroke-width="1"/>
<line x1="432.3" y1="456.7" x2="434.5" y2="456.7" stroke="#707070" stroke-width="1"/>
<text x="430.3" y="462.5" font-size="16" text-anchor="end" fill="#000" font-weight="normal" stroke="#000" stroke-width="0.18" >100</text>
<line x1="432.3" y1="407.15" x2="434.5" y2="407.15" stroke="#707070" stroke-width="1"/>
<text x="430.3" y="412.95" font-size="16" text-anchor="end" fill="#000" font-weight="normal" stroke="#000" stroke-width="0.18" >150</text>
<line x1="432.3" y1="357.6" x2="434.5" y2="357.6" stroke="#707070" stroke-width="1"/>
<text x="430.3" y="363.4" font-size="16" text-anchor="end" fill="#000" font-weight="normal" stroke="#000" stroke-width="0.18" >200</text>
<line x1="432.3" y1="308.05" x2="434.5" y2="308.05" stroke="#707070" stroke-width="1"/>
<text x="430.3" y="313.85" font-size="16" text-anchor="end" fill="#000" font-weight="normal" stroke="#000" stroke-width="0.18" >250</text>
<line x1="432.3" y1="258.5" x2="434.5" y2="258.5" stroke="#707070" stroke-width="1"/>
<text x="430.3" y="264.3" font-size="16" text-anchor="end" fill="#000" font-weight="normal" stroke="#000" stroke-width="0.18" >300</text>
<line x1="434.5" y1="467.5" x2="434.5" y2="469.5" stroke="#707070" stroke-width="1"/>
<text x="434.5" y="483" font-size="16" text-anchor="middle" fill="#000" font-weight="normal" stroke="#000" stroke-width="0.18" >0</text>
<line x1="511.6" y1="467.5" x2="511.6" y2="469.5" stroke="#707070" stroke-width="1"/>
<text x="511.6" y="483" font-size="16" text-anchor="middle" fill="#000" font-weight="normal" stroke="#000" stroke-width="0.18" >100</text>
<line x1="588.7" y1="467.5" x2="588.7" y2="469.5" stroke="#707070" stroke-width="1"/>
<text x="588.7" y="483" font-size="16" text-anchor="middle" fill="#000" font-weight="normal" stroke="#000" stroke-width="0.18" >200</text>
<line x1="665.8" y1="467.5" x2="665.8" y2="469.5" stroke="#707070" stroke-width="1"/>
<text x="665.8" y="483" font-size="16" text-anchor="middle" fill="#000" font-weight="normal" stroke="#000" stroke-width="0.18" >300</text>
<text x="560.15" y="500.7" font-size="16.3" text-anchor="middle" fill="#000" font-weight="normal" stroke="#000" stroke-width="0.18" >Temperature (&#176;C)</text>
<text transform="translate(396.0 400.3) rotate(-90)" font-size="16.3" fill="#000" stroke="#000" stroke-width="0.18">d<tspan font-size="12" dy="3.8">33</tspan><tspan dy="-3.8"> (pC/N)</tspan></text>
<circle cx="444.9" cy="282" r="3.3" fill="#3b4cc0"/>
<circle cx="444.9" cy="305.2" r="3.3" fill="#f49a7b"/>
<circle cx="444.9" cy="328.1" r="3.3" fill="#b40426"/>
<text x="473.6" y="286.4" font-size="16" text-anchor="start" fill="#000" font-weight="normal" stroke="#000" stroke-width="0.18" >KNN</text>
<text x="473.6" y="309.2" font-size="16" text-anchor="start" fill="#000" font-weight="normal" stroke="#000" stroke-width="0.18" >KNNLi1</text>
<text x="473.6" y="332.4" font-size="16" text-anchor="start" fill="#000" font-weight="normal" stroke="#000" stroke-width="0.18" >KNNBa1</text>
<text x="493.3" y="376" font-size="14" text-anchor="middle" fill="#000" font-weight="normal" stroke="#000" stroke-width="0.18" >O phase</text>
<text x="634.4" y="315" font-size="14" text-anchor="middle" fill="#000" font-weight="normal" stroke="#000" stroke-width="0.18" >T phase</text>
<text x="562" y="446.2" font-size="14" text-anchor="middle" fill="#000" font-weight="normal" stroke="#000" stroke-width="0.18" >Phase</text>
<text x="562.3" y="463.2" font-size="14" text-anchor="middle" fill="#000" font-weight="normal" stroke="#000" stroke-width="0.18" >boundary</text>
<text x="357.5" y="270.8" font-size="13.5" text-anchor="start" fill="#000" font-weight="bold" >d</text>
</svg></body></html>
